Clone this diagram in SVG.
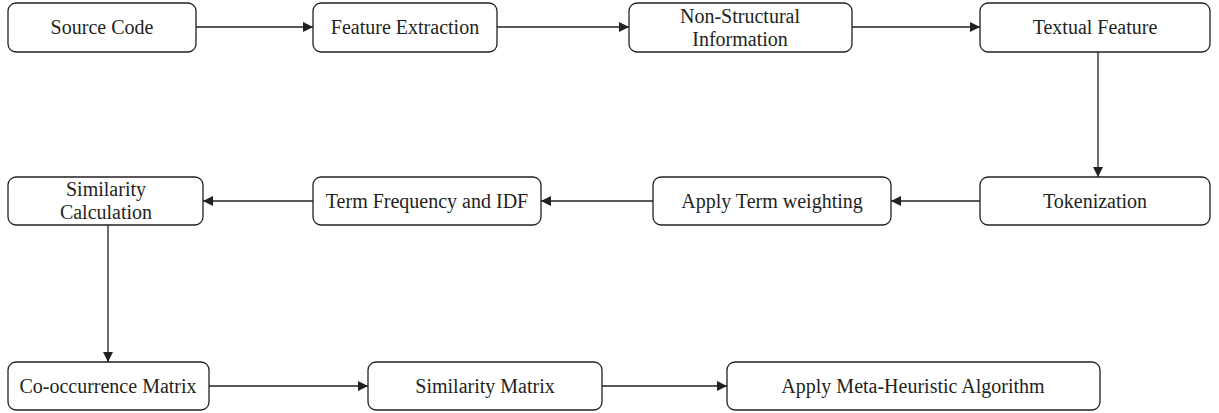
<svg xmlns="http://www.w3.org/2000/svg" width="1219" height="413" viewBox="0 0 1219 413">
<style>
.box{fill:#fff;stroke:#231f20;stroke-width:1.3}
.t{font-family:"Liberation Serif",serif;font-size:20px;fill:#231f20;text-anchor:middle}
.c{stroke:#231f20;stroke-width:1.3;fill:none;marker-end:url(#ah)}
</style>
<defs>
<marker id="ah" viewBox="0 0 10 10" refX="10" refY="5" markerWidth="10" markerHeight="10" markerUnits="userSpaceOnUse" orient="auto">
<path d="M0,0 L10,5 L0,10 Z" fill="#231f20"/>
</marker>
</defs>
<rect width="1219" height="413" fill="#fff"/>
<g id="connectors">
<line class="c" x1="196" y1="27" x2="313" y2="27"/>
<line class="c" x1="497" y1="27" x2="629" y2="27"/>
<line class="c" x1="852" y1="27" x2="980" y2="27"/>
<line class="c" x1="1098" y1="52" x2="1098" y2="177"/>
<line class="c" x1="980" y1="201" x2="891" y2="201"/>
<line class="c" x1="653" y1="201" x2="541" y2="201"/>
<line class="c" x1="313" y1="201" x2="203" y2="201"/>
<line class="c" x1="108" y1="225" x2="108" y2="362"/>
<line class="c" x1="209" y1="386" x2="368" y2="386"/>
<line class="c" x1="602" y1="386" x2="727" y2="386"/>
</g>
<g id="n1"><rect class="box" x="8" y="3" width="188" height="49" rx="8"/><text class="t" x="102" y="34">Source Code</text></g>
<g id="n2"><rect class="box" x="313" y="3" width="184" height="49" rx="8"/><text class="t" x="405" y="34">Feature Extraction</text></g>
<g id="n3"><rect class="box" x="629" y="3" width="223" height="49" rx="8"/><text class="t" x="740" y="23">Non-Structural</text><text class="t" x="740" y="46">Information</text></g>
<g id="n4"><rect class="box" x="980" y="3" width="230" height="49" rx="8"/><text class="t" x="1095" y="34">Textual Feature</text></g>
<g id="n5"><rect class="box" x="980" y="177" width="230" height="48" rx="8"/><text class="t" x="1095" y="208">Tokenization</text></g>
<g id="n6"><rect class="box" x="653" y="177" width="238" height="48" rx="8"/><text class="t" x="772" y="208">Apply Term weighting</text></g>
<g id="n7"><rect class="box" x="313" y="177" width="228" height="48" rx="8"/><text class="t" x="427" y="208">Term Frequency and IDF</text></g>
<g id="n8"><rect class="box" x="8" y="177" width="195" height="48" rx="8"/><text class="t" x="106" y="196">Similarity</text><text class="t" x="106" y="219">Calculation</text></g>
<g id="n9"><rect class="box" x="8" y="362" width="201" height="48" rx="8"/><text class="t" x="108" y="393">Co-occurrence Matrix</text></g>
<g id="n10"><rect class="box" x="368" y="362" width="234" height="48" rx="8"/><text class="t" x="485" y="393">Similarity Matrix</text></g>
<g id="n11"><rect class="box" x="727" y="362" width="373" height="48" rx="8"/><text class="t" x="913" y="393">Apply Meta-Heuristic Algorithm</text></g>
</svg>
